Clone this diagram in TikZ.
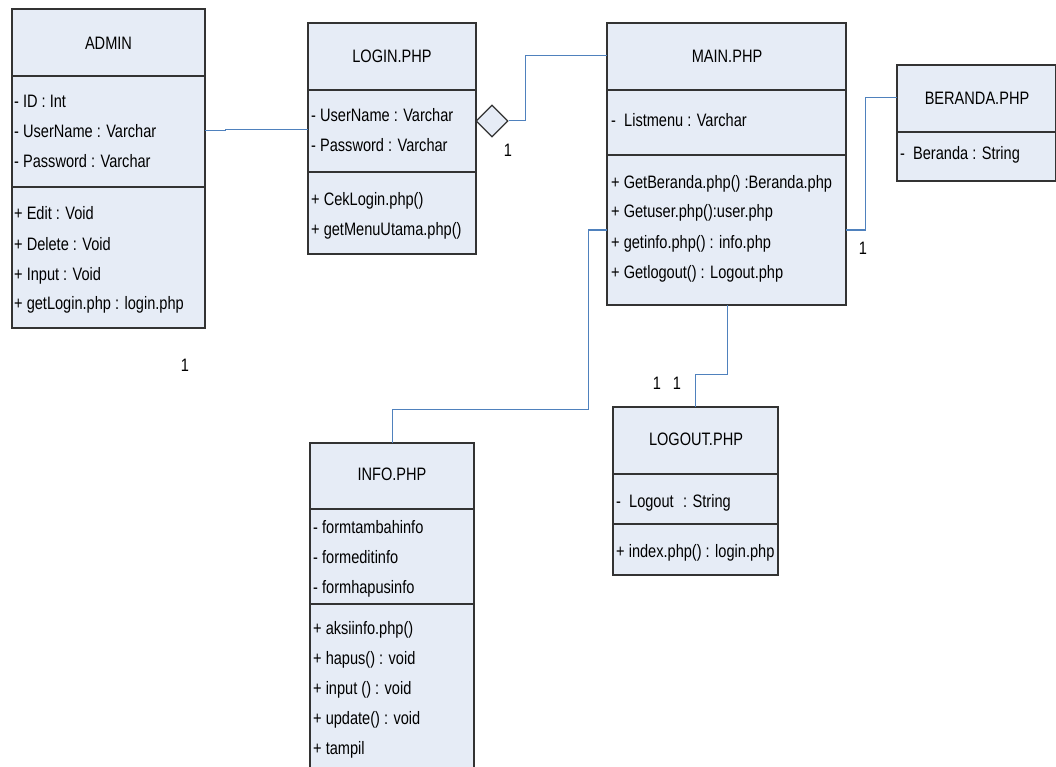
\documentclass[tikz,border=0pt]{standalone}
\usepackage{fontspec}
\setmainfont{Liberation Sans}[FakeStretch=0.81]
\usetikzlibrary{shapes.geometric}
\definecolor{boxfill}{HTML}{E6ECF6}
\definecolor{boxline}{HTML}{333333}
\definecolor{conncol}{HTML}{4F81BD}
\begin{document}
\begin{tikzpicture}[x=1pt,y=-1pt,
  box/.style={draw=boxline,fill=boxfill,line width=1.3pt,rectangle,inner sep=0pt,outer sep=0pt},
  divider/.style={draw=boxline,line width=1.3pt},
  txt/.style={anchor=base west,inner sep=0pt,font=\fontsize{18}{20}\selectfont},
  ttl/.style={anchor=center,inner sep=0pt,font=\fontsize{18}{20}\selectfont},
  mult/.style={anchor=center,inner sep=0pt,font=\fontsize{18}{20}\selectfont},
  conn/.style={draw=conncol,line width=1pt}]
\clip (0,0) rectangle (1056,767);
\fill[white] (0,0) rectangle (1056,767);

% ---- boxes ----
\node[box,minimum width=193,minimum height=319] (admin) at (108.5,168.5) {};
\node[box,minimum width=168,minimum height=231] (login) at (392,138.5) {};
\node[box,minimum width=239,minimum height=282] (main) at (726.5,164) {};
\node[box,minimum width=159,minimum height=116] (beranda) at (976.5,123) {};
\node[box,minimum width=164,minimum height=337] (info) at (392,611.5) {};
\node[box,minimum width=165,minimum height=168] (logout) at (695.5,491) {};

% ---- dividers ----
\draw[divider] (admin.west |- 0,76) -- (admin.east |- 0,76);
\draw[divider] (admin.west |- 0,187) -- (admin.east |- 0,187);
\draw[divider] (login.west |- 0,90) -- (login.east |- 0,90);
\draw[divider] (login.west |- 0,172) -- (login.east |- 0,172);
\draw[divider] (main.west |- 0,90) -- (main.east |- 0,90);
\draw[divider] (main.west |- 0,155) -- (main.east |- 0,155);
\draw[divider] (beranda.west |- 0,132) -- (beranda.east |- 0,132);
\draw[divider] (info.west |- 0,509) -- (info.east |- 0,509);
\draw[divider] (info.west |- 0,604) -- (info.east |- 0,604);
\draw[divider] (logout.west |- 0,474) -- (logout.east |- 0,474);
\draw[divider] (logout.west |- 0,524) -- (logout.east |- 0,524);

% ---- titles ----
\node[ttl] (tadmin) at (108.5,43) {ADMIN};
\node[ttl] (tlogin) at (392,56) {LOGIN.PHP};
\node[ttl] (tmain) at (727,56) {MAIN.PHP};
\node[ttl] (tberanda) at (977,98) {BERANDA.PHP};
\node[ttl] (tinfo) at (392,474) {INFO.PHP};
\node[ttl] (tlogout) at (696,439) {LOGOUT.PHP};

% ---- ADMIN ----
\node[txt] (a1) at (14,108) {- ID : Int};
\node[txt] (a2) at (14,138) {- UserName : Varchar};
\node[txt] (a3) at (14,168) {- Password : Varchar};
\node[txt] (a4) at (14,220) {+ Edit : Void};
\node[txt] (a5) at (14,250) {+ Delete : Void};
\node[txt] (a6) at (14,280) {+ Input : Void};
\node[txt] (a7) at (14,309) {+ getLogin.php : login.php};

% ---- LOGIN ----
\node[txt] (l1) at (311,122) {- UserName : Varchar};
\node[txt] (l2) at (311,152) {- Password : Varchar};
\node[txt] (l3) at (311,206) {+ CekLogin.php()};
\node[txt] (l4) at (311,236) {+ getMenuUtama.php()};

% ---- MAIN ----
\node[txt] (m1) at (611,127) {-\hspace{0.45em}Listmenu : Varchar};
\node[txt] (m2) at (611,189) {+ GetBeranda.php() :Beranda.php};
\node[txt] (m3) at (611,218) {+ Getuser.php():user.php};
\node[txt] (m4) at (611,248) {+ getinfo.php() : info.php};
\node[txt] (m5) at (611,278) {+ Getlogout() : Logout.php};

% ---- BERANDA ----
\node[txt] (b1) at (900,160) {-\hspace{0.45em}Beranda : String};

% ---- INFO ----
\node[txt] (i1) at (313,533) {- formtambahinfo};
\node[txt] (i2) at (313,563) {- formeditinfo};
\node[txt] (i3) at (313,593) {- formhapusinfo};
\node[txt] (i4) at (313,634) {+ aksiinfo.php()};
\node[txt] (i5) at (313,664) {+ hapus() : void};
\node[txt] (i6) at (313,694) {+ input () : void};
\node[txt] (i7) at (313,724) {+ update() : void};
\node[txt] (i8) at (313,754) {+ tampil};

% ---- LOGOUT ----
\node[txt] (o1) at (616,507) {-\hspace{0.45em}Logout\hspace{0.3em} : String};
\node[txt] (o2) at (616,557) {+ index.php() : login.php};

% ---- aggregation diamond ----
\node[diamond,draw=boxline,fill=boxfill,line width=1.2pt,inner sep=0pt,minimum width=32,minimum height=32,aspect=1] (dia) at (492,121) {};

% ---- bend points ----
\coordinate (c1) at (225,131);
\coordinate (c2) at (225,130);
\coordinate (c3) at (525,56);
\coordinate (c5) at (865,230);
\coordinate (c6) at (865,98);
\coordinate (c7) at (588,230);
\coordinate (c8) at (588,409);
\coordinate (c10) at (727,374);

% ---- connectors ----
\draw[conn] (admin.east |- c1) -- (c1) -- (c2) -- (login.west |- c2);
\draw[conn] (dia.east) -| (c3) -- (main.west |- c3);
\draw[conn] (main.east |- c5) -- (c5) -- (c6) -- (beranda.west |- c6);
\draw[conn] (main.west |- c7) -- (c7) -- (c8) -| (info.north);
\draw[conn] (main.south -| c10) -- (c10) -| (logout.north);

% ---- multiplicities ----
\node[mult] (n1) at (508,150) {1};
\node[mult] (n2) at (863,248) {1};
\node[mult] (n3) at (657,383) {1};
\node[mult] (n4) at (677,383) {1};
\node[mult] (n5) at (185,365) {1};
\end{tikzpicture}
\end{document}
